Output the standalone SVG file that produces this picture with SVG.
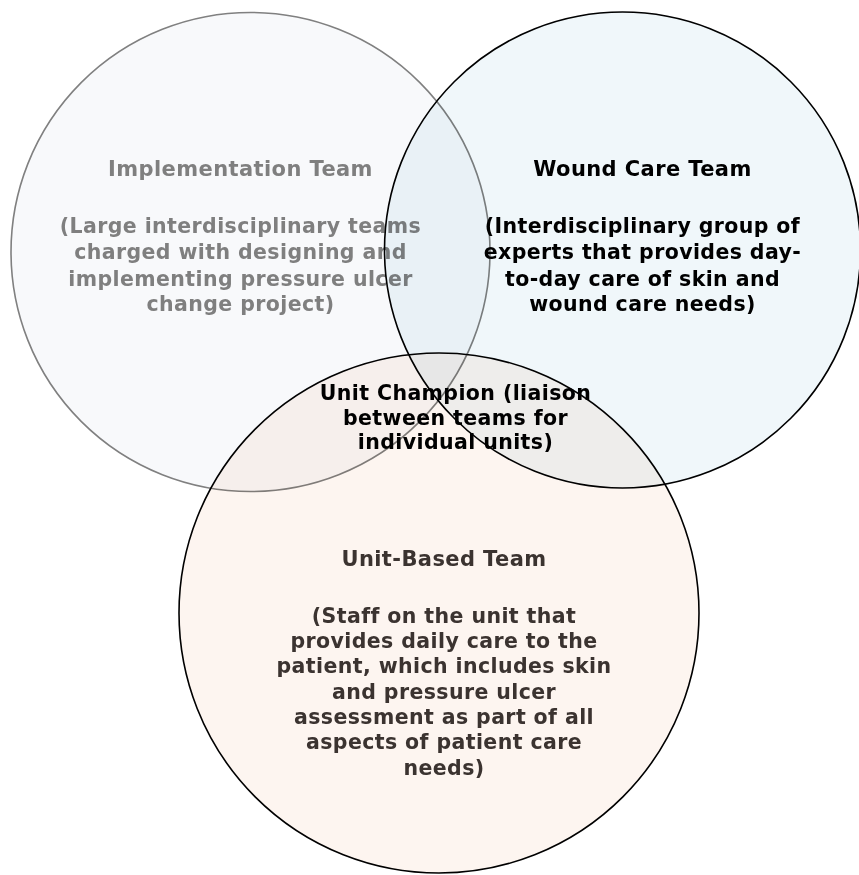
<svg xmlns="http://www.w3.org/2000/svg" width="859" height="875" viewBox="0 0 859 875">
<style>
.c{mix-blend-mode:multiply;stroke-width:1.6}
.t{font-family:"DejaVu Sans",Verdana,sans-serif;font-weight:bold;font-size:20.5px;letter-spacing:0.4px;text-anchor:middle}
.h{font-size:21px}
</style>
<rect width="859" height="875" fill="#ffffff"/>
<g id="implementation-team">
<circle class="c" cx="250.5" cy="252" r="239.5" fill="#f8f9fb" stroke="#808080"/>
<text class="t" fill="#7f7f7f"><tspan class="h" x="240.5" y="176">Implementation Team</tspan><tspan x="240.5" y="233">(Large interdisciplinary teams</tspan><tspan x="240.5" y="259">charged with designing and</tspan><tspan x="240.5" y="285.5">implementing pressure ulcer</tspan><tspan x="240.5" y="311">change project)</tspan></text>
</g>
<g id="wound-care-team">
<circle class="c" cx="622.5" cy="250" r="238" fill="#f0f7fa" stroke="#000000"/>
<text class="t" fill="#000000"><tspan class="h" x="642.5" y="176">Wound Care Team</tspan><tspan x="642.5" y="233">(Interdisciplinary group of</tspan><tspan x="642.5" y="259">experts that provides day-</tspan><tspan x="642.5" y="285.5">to-day care of skin and</tspan><tspan x="642.5" y="311">wound care needs)</tspan></text>
</g>
<g id="unit-based-team">
<circle class="c" cx="439" cy="613" r="260" fill="#fdf5f0" stroke="#000000"/>
<text class="t" fill="#3b3330"><tspan class="h" x="444" y="566">Unit-Based Team</tspan><tspan x="444" y="622.5">(Staff on the unit that</tspan><tspan x="444" y="648">provides daily care to the</tspan><tspan x="444" y="673.3">patient, which includes skin</tspan><tspan x="444" y="698.6">and pressure ulcer</tspan><tspan x="444" y="724">assessment as part of all</tspan><tspan x="444" y="749.2">aspects of patient care</tspan><tspan x="444" y="774.5">needs)</tspan></text>
</g>
<g id="unit-champion">
<text class="t" fill="#000000"><tspan x="455.5" y="400">Unit Champion (liaison</tspan><tspan x="455.5" y="424.7">between teams for</tspan><tspan x="455.5" y="449.4">individual units)</tspan></text>
</g>
<g id="connectors"></g>
</svg>
